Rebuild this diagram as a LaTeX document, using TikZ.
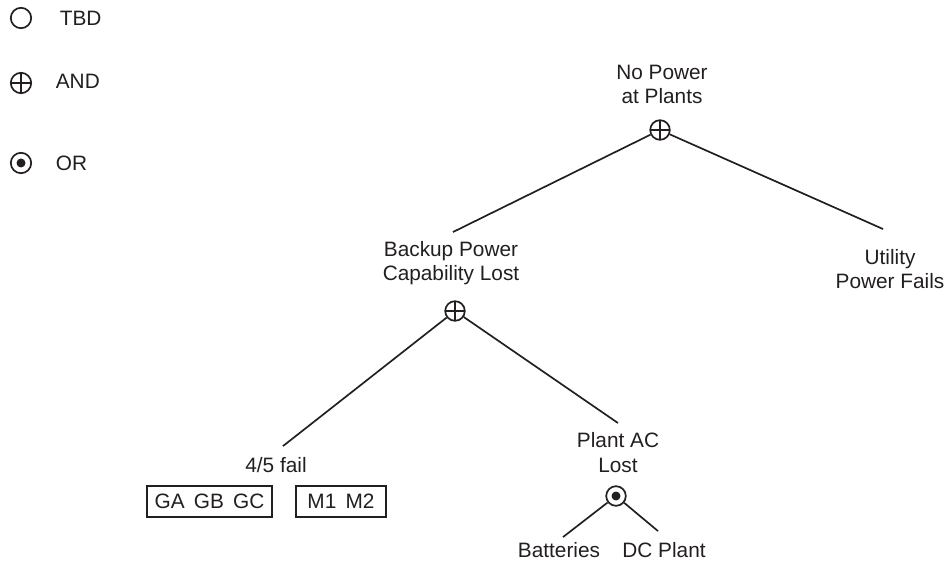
\documentclass[tikz,border=0pt]{standalone}
\usepackage{fontspec}
\setmainfont{Liberation Sans}
\usepackage{xcolor}
\usepackage{tikz}
\usetikzlibrary{positioning,calc}

\definecolor{ink}{HTML}{231F20}

\tikzset{
  gate/.style={circle, draw=ink, line width=1.2pt, inner sep=0pt, minimum size=0.49cm},
  andgate/.style={gate, path picture={
      \draw[ink, line width=1.1pt] (path picture bounding box.north) -- (path picture bounding box.south)
            (path picture bounding box.west) -- (path picture bounding box.east);}},
  orgate/.style={gate, path picture={
      \fill[ink] (path picture bounding box.center) circle (3.2pt);}},
  evt/.style={align=center, inner sep=0pt, anchor=base, text=ink},
  basicbox/.style={draw=ink, line width=1.1pt, inner sep=0pt, minimum height=0.775cm, text=ink},
  key/.style={anchor=base west, inner sep=0pt, text=ink}
}

\begin{document}
\begin{tikzpicture}[x=0.025cm, y=-0.025cm, line width=1.2pt, font=\fontsize{14.8}{17.1}\selectfont]
  \useasboundingbox (0,0) rectangle (951,563);
  % legend
  \node[gate, minimum size=0.51cm] (keytbd) at (21,18) {};
  \node[key] (keytbdtxt) at (59,26) {TBD};
  \node[andgate, minimum size=0.51cm] (keyand) at (21,83) {};
  \node[key] (keyandtxt) at (55,89) {AND};
  \node[orgate, minimum size=0.51cm] (keyor) at (21,163) {};
  \node[key] (keyortxt) at (55,171) {OR};
  % top event (base = last line)
  \node[evt] (nopower) at (662,104) {No Power\\at Plants};
  \node[andgate] (gtop) at (660,130) {};
  \node[evt] (backup) at (451,281) {Backup Power\\Capability Lost};
  \node[evt] (utility) at (890,289) {Utility\\Power Fails};
  \draw[ink] (gtop) -- ([shift={(2,-9)}]backup.north);
  \draw[ink] (gtop) -- ([shift={(-7,-20)}]utility.north);
  % backup branch
  \node[andgate] (gbackup) at (455,311) {};
  \node[evt] (fourfive) at (276,472) {4/5 fail};
  \node[evt] (plantac) at (618,472) {Plant AC\\Lost};
  \draw[ink] (gbackup) -- ([shift={(7,-10)}]fourfive.north);
  \draw[ink] (gbackup) -- ([shift={(0,-9)}]plantac.north);
  \node[basicbox, minimum width=3.125cm] (gens) at (209.5,501.5) {GA\, GB\, GC};
  \node[basicbox, minimum width=2.25cm] (motors) at (341,501.5) {M1\, M2};
  % plant AC branch
  \node[orgate] (gplant) at (616,496) {};
  \node[evt] (batteries) at (559,557) {Batteries};
  \node[evt] (dcplant) at (664,557) {DC Plant};
  \draw[ink] (gplant) -- ([shift={(4,-4)}]batteries.north);
  \draw[ink] (gplant) -- ([shift={(-6,-10)}]dcplant.north);
\end{tikzpicture}
\end{document}
